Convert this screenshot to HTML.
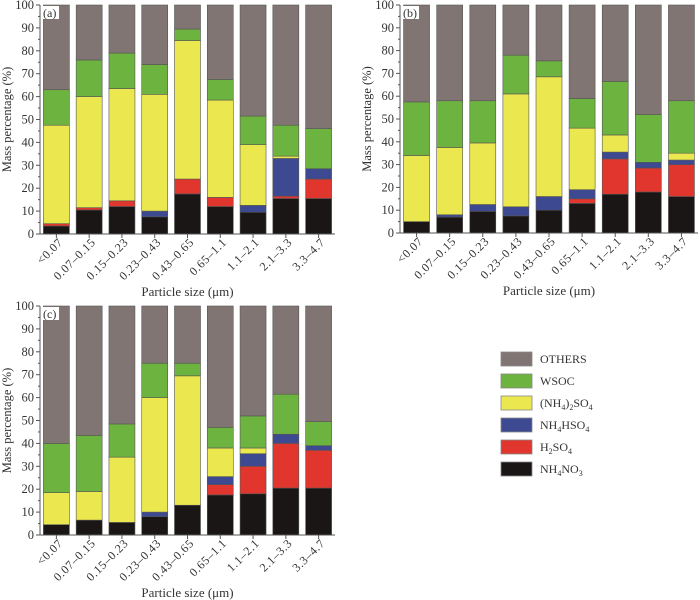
<!DOCTYPE html>
<html><head><meta charset="utf-8"><style>
html,body{margin:0;padding:0;background:#fff;}
svg{display:block;font-family:"Liberation Serif","DejaVu Serif",serif;}
</style></head><body>
<svg id="chart" width="700" height="600" viewBox="0 0 700 600" xmlns="http://www.w3.org/2000/svg"></svg>
<script>
const categories = ["<0.07","0.07\u20130.15","0.15\u20130.23","0.23\u20130.43","0.43\u20130.65","0.65\u20131.1","1.1\u20132.1","2.1\u20133.3","3.3\u20134.7"];
const yTicks = [0,10,20,30,40,50,60,70,80,90,100];
const seriesNames = ["NH4NO3","H2SO4","NH4HSO4","(NH4)2SO4","WSOC","OTHERS"];
const seriesColors = ["#1a1615","#e0362d","#3d4a92","#ebe84f","#6db33f","#807572"];
// panel (a)
const aNH4NO3 = [3.5,10.5,12,7.5,17.5,12,9.5,15.5,15.5];
const aH2SO4 = [1,1,2.5,0,6.5,4,0,1,8.5];
const aNH4HSO4 = [0,0,0,2.5,0,0,3,16.5,4.5];
const aAS = [43,48.5,49,51,60.5,42.5,26.5,1,0];
const aWSOC = [15.5,16,15.5,13,5,9,12.5,13.5,17.5];
// panel (b)
const bNH4NO3 = [5,7,9.5,7.5,10,13,17,18,16];
const bH2SO4 = [0,0,0,0,0,2,15.5,10.5,14];
const bNH4HSO4 = [0,1,3,4,6,4,3,2.5,2];
const bAS = [29,29.5,27,49.5,52.5,27,7.5,0,3];
const bWSOC = [23.5,20.5,18.5,17,7,13,23.5,21,23];
// panel (c)
const cNH4NO3 = [4.5,6.5,5.5,8,13,17.5,18,20.5,20.5];
const cH2SO4 = [0,0,0,0,0,4.5,12,19.5,16.5];
const cNH4HSO4 = [0,0,0,2,0,3.5,5.5,4,2];
const cAS = [14,12.5,28.5,50,56.5,12.5,2.5,0,0];
const cWSOC = [21.5,24.5,14.5,15,5.5,9,14,17.5,10.5];

const NS="http://www.w3.org/2000/svg";
const svg=document.getElementById('chart');
function mk(tag,attrs,parent){const e=document.createElementNS(NS,tag);for(const k in attrs)e.setAttribute(k,attrs[k]);(parent||svg).appendChild(e);return e;}

function drawPanel(id,L,T,W,H,series){
  const g=mk('g',{});
  
  
  const y=v=>T+H-v/100*H;
  const pitch=W/categories.length;
  const x=i=>L+(i+0.5)*pitch;
  const bw=26;
  categories.forEach((c,i)=>{
    let cum=0;
    const vals=series.map(s=>s[i]);
    const other=100-vals.reduce((a,b)=>a+b,0);
    vals.push(other);
    vals.forEach((v,k)=>{
      if(v<=0)return;
      const r=mk('rect',{x:x(i)-bw/2,y:y(cum+v),width:bw,height:y(cum)-y(cum+v),fill:seriesColors[k],stroke:'#555',"stroke-width":0.6},g);
      
      
      cum+=v;
    });
    mk('line',{x1:x(i),x2:x(i),y1:T+H,y2:T+H+4,stroke:'#555'},g);
    const ax=x(i)+7, ay=T+H+9;
    const t=mk('text',{x:ax,y:ay,"text-anchor":"end","font-size":"12","letter-spacing":"0.6",fill:'#333',transform:'rotate(-45 '+ax+' '+ay+')'},g);
    t.textContent=c;
    
    
  });
  mk('line',{x1:L,x2:L,y1:T,y2:T+H,stroke:'#555'},g);
  mk('line',{x1:L,x2:L+W,y1:T+H,y2:T+H,stroke:'#555'},g);
  for(let v=0;v<=100;v+=5){mk('line',{x1:L-(v%10?2:4),x2:L,y1:y(v),y2:y(v),stroke:'#555'},g);}
  yTicks.forEach(v=>{
    const t=mk('text',{x:L-6,y:y(v)+4,"text-anchor":"end","font-size":"12.5",fill:'#333'},g);
    t.textContent=v;
    
    
  });
  const yt=mk('text',{x:0,y:0,"text-anchor":"middle","font-size":"12.5",fill:'#333',transform:'translate('+(L-29)+' '+(T+H/2)+') rotate(-90)'},g);
  yt.textContent='Mass percentage (%)';
  
  
  const xt=mk('text',{x:L+W/2,y:T+H+62,"text-anchor":"middle","font-size":"13",fill:'#333'},g);
  xt.textContent='Particle size (\u03bcm)';
  
  
  mk('rect',{x:L+2,y:T+1,width:17,height:13,fill:'#fff'},g);
  const pl=mk('text',{x:L+3,y:T+12,"font-size":"12",fill:'#333'},g);
  pl.textContent='('+id+')';
  
  
}
drawPanel('a',40,5,295,229,[aNH4NO3,aH2SO4,aNH4HSO4,aAS,aWSOC]);
drawPanel('b',400,5,298,228,[bNH4NO3,bH2SO4,bNH4HSO4,bAS,bWSOC]);
drawPanel('c',40,306,295,229,[cNH4NO3,cH2SO4,cNH4HSO4,cAS,cWSOC]);

const legLabels=['OTHERS','WSOC','(NH<tspan font-size="8" dy="3">4</tspan><tspan dy="-3">)</tspan><tspan font-size="8" dy="3">2</tspan><tspan dy="-3">SO</tspan><tspan font-size="8" dy="3">4</tspan>','NH<tspan font-size="8" dy="3">4</tspan><tspan dy="-3">HSO</tspan><tspan font-size="8" dy="3">4</tspan>','H<tspan font-size="8" dy="3">2</tspan><tspan dy="-3">SO</tspan><tspan font-size="8" dy="3">4</tspan>','NH<tspan font-size="8" dy="3">4</tspan><tspan dy="-3">NO</tspan><tspan font-size="8" dy="3">3</tspan>'];
const legColors=["#807572","#6db33f","#ebe84f","#3d4a92","#e0362d","#1a1615"];
const lg=mk('g',{});


legLabels.forEach((lab,i)=>{
  const yy=352+i*22;
  const r=mk('rect',{x:501,y:yy,width:31,height:14,fill:legColors[i],stroke:'#888',"stroke-width":0.8},lg);
  
  
  const t=mk('text',{x:540,y:yy+11,"font-size":"12",fill:'#333'},lg);
  t.innerHTML=lab;
  
  
});
</script>
</body></html>
